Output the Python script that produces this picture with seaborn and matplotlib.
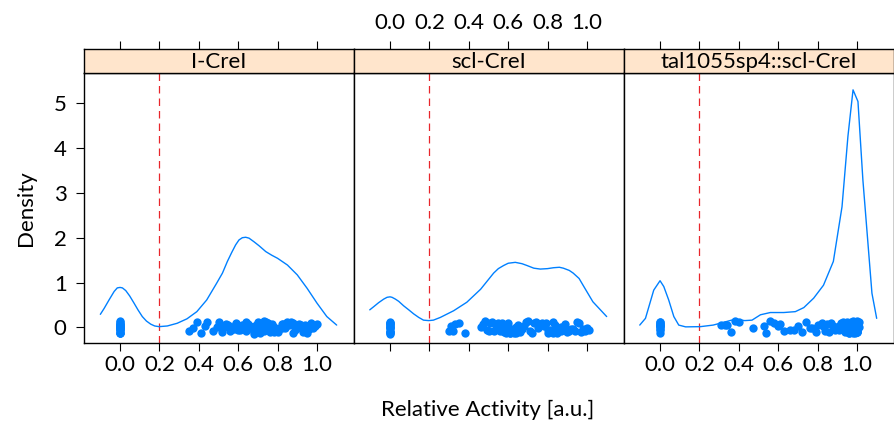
import numpy as np
import matplotlib
matplotlib.use("Agg")
import matplotlib.pyplot as plt
import seaborn as sns

# Construct labels (panel order)
constructs = ["I-CreI", "scl-CreI", "tal1055sp4::scl-CreI"]

# Relative activity of single clones per construct
act_icrei = [0.0] * 16 + [
    0.35, 0.37, 0.39, 0.41, 0.43, 0.44, 0.47, 0.49, 0.50, 0.52, 0.53, 0.54,
    0.55, 0.56, 0.56, 0.57, 0.57, 0.58, 0.58, 0.59, 0.59, 0.60, 0.60, 0.61,
    0.61, 0.62, 0.62, 0.63, 0.63, 0.63, 0.64, 0.64, 0.64, 0.65, 0.65, 0.66,
    0.66, 0.67, 0.67, 0.68, 0.68, 0.69, 0.69, 0.70, 0.70, 0.71, 0.71, 0.72,
    0.72, 0.73, 0.73, 0.74, 0.74, 0.75, 0.75, 0.76, 0.76, 0.77, 0.77, 0.78,
    0.78, 0.79, 0.79, 0.80, 0.80, 0.81, 0.82, 0.82, 0.83, 0.83, 0.84, 0.85,
    0.85, 0.86, 0.86, 0.87, 0.88, 0.88, 0.89, 0.90, 0.91, 0.92, 0.93, 0.94,
    0.95, 0.96, 0.97, 0.98, 0.99, 1.00]
act_scl = [0.0] * 14 + [
    0.30, 0.31, 0.32, 0.33, 0.35, 0.38,
    0.46, 0.47, 0.48, 0.49, 0.50, 0.51, 0.52, 0.53, 0.54, 0.55, 0.55, 0.56,
    0.56, 0.57, 0.58, 0.58, 0.59, 0.60, 0.60, 0.61, 0.61, 0.62, 0.63, 0.63,
    0.64, 0.64, 0.65, 0.66, 0.66, 0.67, 0.68, 0.69, 0.70, 0.71, 0.72, 0.73,
    0.74, 0.75, 0.76, 0.77, 0.78, 0.79, 0.80, 0.80, 0.81, 0.82, 0.83, 0.83,
    0.84, 0.85, 0.85, 0.86, 0.87, 0.87, 0.88, 0.89, 0.89, 0.90, 0.91, 0.92,
    0.93, 0.94, 0.95, 0.96, 0.97, 0.98, 0.99, 1.00, 1.01]
act_tal = [0.0] * 11 + [
    0.31, 0.33, 0.34, 0.36, 0.38, 0.40, 0.47, 0.53, 0.54, 0.56, 0.58, 0.60,
    0.61, 0.63, 0.66, 0.68, 0.70, 0.72, 0.74, 0.76, 0.77, 0.79, 0.80, 0.82,
    0.83, 0.84, 0.85, 0.86, 0.87, 0.88, 0.89, 0.90, 0.91, 0.91, 0.92, 0.92,
    0.93, 0.93, 0.94, 0.94, 0.94, 0.95, 0.95, 0.95, 0.95, 0.96, 0.96, 0.96,
    0.96, 0.97, 0.97, 0.97, 0.97, 0.97, 0.98, 0.98, 0.98, 0.98, 0.98, 0.98,
    0.99, 0.99, 0.99, 0.99, 0.99, 0.99, 1.00, 1.00, 1.00, 1.00, 1.00, 1.00,
    1.00, 1.00, 1.00, 1.01, 1.01]

# Kernel density estimates (x grid, density)
dens_x_icrei = [-0.10, -0.081, -0.056, -0.030, -0.014, 0.0, 0.012, 0.029,
                0.049, 0.071, 0.091, 0.113, 0.134, 0.156, 0.176, 0.198,
                0.24, 0.29, 0.34, 0.39, 0.44, 0.49, 0.52, 0.545, 0.567,
                0.587, 0.604, 0.621, 0.638, 0.655, 0.68, 0.706, 0.74, 0.77,
                0.80, 0.85, 0.90, 0.95, 1.00, 1.05, 1.10]
dens_y_icrei = [0.29, 0.42, 0.61, 0.80, 0.88, 0.89, 0.88, 0.82,
                0.70, 0.54, 0.39, 0.24, 0.14, 0.07, 0.03, 0.015,
                0.03, 0.09, 0.19, 0.35, 0.61, 0.98, 1.21, 1.47, 1.67,
                1.84, 1.95, 2.00, 2.01, 1.99, 1.91, 1.82, 1.69, 1.61,
                1.54, 1.39, 1.17, 0.87, 0.54, 0.24, 0.05]
dens_x_scl = [-0.103, -0.083, -0.058, -0.032, -0.015, 0.0, 0.010, 0.027,
              0.044, 0.069, 0.095, 0.12, 0.146, 0.17, 0.196, 0.22, 0.255,
              0.323, 0.39, 0.46, 0.526, 0.55, 0.577, 0.60, 0.636, 0.67,
              0.695, 0.73, 0.763, 0.80, 0.83, 0.86, 0.88, 0.91, 0.93,
              0.96, 0.98, 1.03, 1.10]
dens_y_scl = [0.39, 0.46, 0.55, 0.63, 0.67, 0.68, 0.67, 0.63,
              0.58, 0.48, 0.39, 0.30, 0.22, 0.16, 0.15, 0.16, 0.22,
              0.37, 0.56, 0.85, 1.21, 1.31, 1.38, 1.43, 1.45, 1.42,
              1.38, 1.32, 1.30, 1.31, 1.33, 1.34, 1.32, 1.27, 1.21,
              1.09, 0.94, 0.57, 0.24]
dens_x_tal = [-0.103, -0.074, -0.032, 0.0, 0.019, 0.044, 0.07, 0.095, 0.13,
              0.205, 0.27, 0.33, 0.38, 0.43, 0.467, 0.51, 0.56, 0.628,
              0.687, 0.73, 0.78, 0.83, 0.88, 0.924, 0.954, 0.98, 1.005,
              1.03, 1.076, 1.10]
dens_y_tal = [0.05, 0.20, 0.83, 1.04, 0.91, 0.61, 0.24, 0.05, 0.01,
              0.015, 0.05, 0.12, 0.18, 0.15, 0.16, 0.28, 0.33, 0.33,
              0.35, 0.44, 0.65, 0.94, 1.47, 2.69, 4.26, 5.30, 5.04,
              3.29, 0.76, 0.20]

activity = [act_icrei, act_scl, act_tal]
dens_x = [dens_x_icrei, dens_x_scl, dens_x_tal]
dens_y = [dens_y_icrei, dens_y_scl, dens_y_tal]

x_ticks = [0.0, 0.2, 0.4, 0.6, 0.8, 1.0]
x_ticklabels = ["0.0", "0.2", "0.4", "0.6", "0.8", "1.0"]
y_ticks = [0, 1, 2, 3, 4, 5]
threshold = 0.2

sns.set_theme(style="white")
plt.rcParams["font.family"] = ["Lato", "DejaVu Sans"]
plt.rcParams["text.color"] = "black"
plt.rcParams["xtick.labelcolor"] = "black"
plt.rcParams["ytick.labelcolor"] = "black"

blue = "#0080ff"
strip_bg = "#ffe5cc"
fs = 16

W, H = 895, 425
fig = plt.figure(figsize=(W / 100, H / 100), dpi=100)
left0, pw = 84, 270
ptop, pbot, stop = 73, 343, 49

np.random.seed(7)
for i, name in enumerate(constructs):
    x0 = left0 + i * pw
    ax = fig.add_axes([x0 / W, (H - pbot) / H, pw / W, (pbot - ptop) / H])
    sax = fig.add_axes([x0 / W, (H - ptop) / H, pw / W, (ptop - stop) / H],
                       sharex=ax)

    sns.lineplot(x=dens_x[i], y=dens_y[i], ax=ax, color=blue, lw=1.0,
                 sort=False, estimator=None)
    vals = np.asarray(activity[i], dtype=float)
    sns.stripplot(x=vals, y=np.zeros_like(vals), orient="h", native_scale=True,
                  jitter=0.14, size=6.0, color=blue, linewidth=0, ax=ax,
                  zorder=3)
    ax.axvline(threshold, color="#e8262b", lw=0.9, ls=(0, (6, 4)), zorder=1)

    ax.set_xlim(-0.183, 1.188)
    ax.set_ylim(-0.35, 5.676)
    ax.set_xlabel("")
    ax.set_ylabel("")
    ax.set_xticks(x_ticks)
    ax.set_xticklabels(x_ticklabels)
    ax.set_yticks(y_ticks)
    ax.set_facecolor("white")
    for sp in ax.spines.values():
        sp.set_color("black")
        sp.set_linewidth(1.0)
        sp.set_visible(True)

    ax.tick_params(axis="x", which="both", direction="out", length=5.5,
                   width=0.8, color="black", labelcolor="black",
                   labelsize=fs, pad=3, bottom=True, top=False,
                   labelbottom=(i != 1), labeltop=False)
    ax.tick_params(axis="y", which="both", direction="out", length=5.5,
                   width=0.8, color="black", labelcolor="black",
                   labelsize=fs, pad=7, left=(i == 0), right=(i == 2),
                   labelleft=(i == 0), labelright=False)

    sax.set_facecolor(strip_bg)
    sax.set_ylim(0, 1)
    sax.set_yticks([])
    for sp in sax.spines.values():
        sp.set_color("black")
        sp.set_linewidth(1.0)
        sp.set_visible(True)
    sax.tick_params(axis="x", which="both", direction="out", length=5.5,
                    width=0.8, color="black", labelcolor="black",
                    labelsize=fs, pad=6, bottom=False, top=True,
                    labelbottom=False, labeltop=(i == 1))
    sax.text(0.5, 0.46, name, transform=sax.transAxes, ha="center",
             va="center", fontsize=fs, color="black")

fig.text(488 / W, 1 - 410 / H, "Relative Activity [a.u.]", ha="center",
         va="center", fontsize=fs, color="black")
fig.text(26 / W, 1 - 208 / H, "Density", ha="center", va="center",
         rotation=90, fontsize=fs, color="black")

fig.savefig("out.png", dpi=100)
